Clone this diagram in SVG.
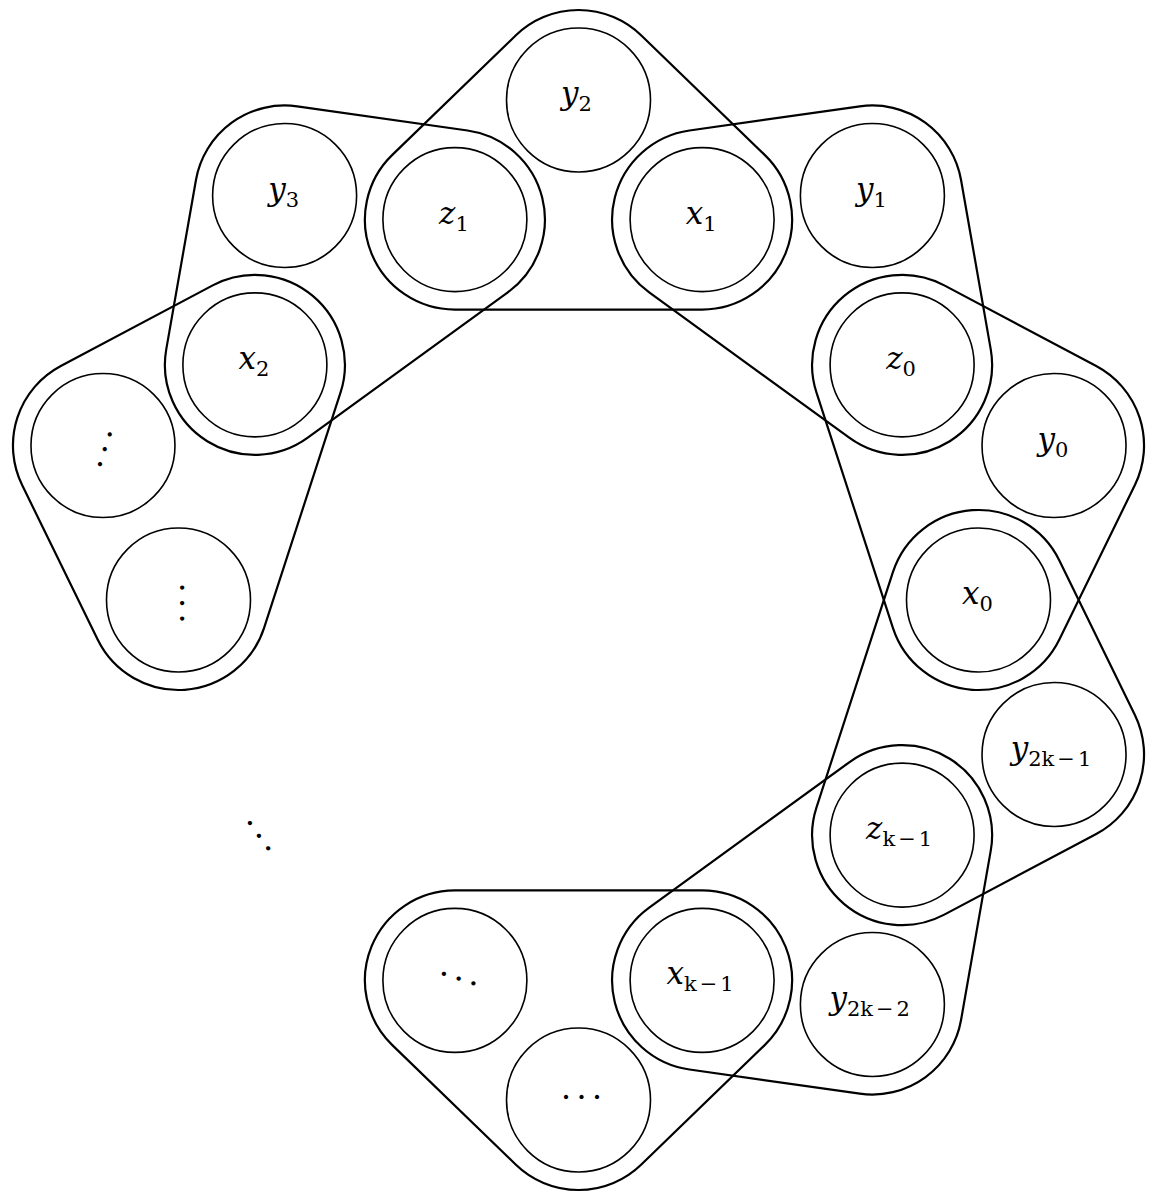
<svg xmlns="http://www.w3.org/2000/svg" width="1158" height="1200" viewBox="0 0 1158 1200">
<style>
.v{fill:none;stroke:#000;stroke-width:1.6}
.he{fill:none;stroke:#000;stroke-width:2.2}
.lbl{font-family:"DejaVu Serif","Liberation Serif",serif;text-anchor:middle;fill:#000}
.m{font-size:31px;font-style:italic}
.s{font-size:21px;font-style:normal}
.dots{font-family:"Liberation Serif",serif;font-size:36px;text-anchor:middle;fill:#000}
</style>
<rect width="1158" height="1200" fill="#fff"/>
<g id="hyperedges">
<path class="he" transform="translate(578.5 600) rotate(-162)" d="M290.42,-123.61A90 90 0 0 1 445.11,-186.18L564.69,-62.58A90 90 0 0 1 564.69,62.58L445.11,186.18A90 90 0 0 1 290.42,123.61Z"/>
<path class="he" transform="translate(578.5 600) rotate(-126)" d="M290.42,-123.61A90 90 0 0 1 445.11,-186.18L564.69,-62.58A90 90 0 0 1 564.69,62.58L445.11,186.18A90 90 0 0 1 290.42,123.61Z"/>
<path class="he" transform="translate(578.5 600) rotate(-90)" d="M290.42,-123.61A90 90 0 0 1 445.11,-186.18L564.69,-62.58A90 90 0 0 1 564.69,62.58L445.11,186.18A90 90 0 0 1 290.42,123.61Z"/>
<path class="he" transform="translate(578.5 600) rotate(-54)" d="M290.42,-123.61A90 90 0 0 1 445.11,-186.18L564.69,-62.58A90 90 0 0 1 564.69,62.58L445.11,186.18A90 90 0 0 1 290.42,123.61Z"/>
<path class="he" transform="translate(578.5 600) rotate(-18)" d="M290.42,-123.61A90 90 0 0 1 445.11,-186.18L564.69,-62.58A90 90 0 0 1 564.69,62.58L445.11,186.18A90 90 0 0 1 290.42,123.61Z"/>
<path class="he" transform="translate(578.5 600) rotate(18)" d="M290.42,-123.61A90 90 0 0 1 445.11,-186.18L564.69,-62.58A90 90 0 0 1 564.69,62.58L445.11,186.18A90 90 0 0 1 290.42,123.61Z"/>
<path class="he" transform="translate(578.5 600) rotate(54)" d="M290.42,-123.61A90 90 0 0 1 445.11,-186.18L564.69,-62.58A90 90 0 0 1 564.69,62.58L445.11,186.18A90 90 0 0 1 290.42,123.61Z"/>
<path class="he" transform="translate(578.5 600) rotate(90)" d="M290.42,-123.61A90 90 0 0 1 445.11,-186.18L564.69,-62.58A90 90 0 0 1 564.69,62.58L445.11,186.18A90 90 0 0 1 290.42,123.61Z"/>
</g>
<g id="node-x0"><circle class="v" cx="978.5" cy="600" r="72"/><text class="lbl" x="977.5" y="604"><tspan class="m">x</tspan><tspan class="s" dy="7">0</tspan></text></g>
<g id="node-z0"><circle class="v" cx="902.11" cy="364.89" r="72"/><text class="lbl" x="901.1" y="368.9"><tspan class="m">z</tspan><tspan class="s" dy="7">0</tspan></text></g>
<g id="node-x1"><circle class="v" cx="702.11" cy="219.58" r="72"/><text class="lbl" x="701.1" y="223.6"><tspan class="m">x</tspan><tspan class="s" dy="7">1</tspan></text></g>
<g id="node-z1"><circle class="v" cx="454.89" cy="219.58" r="72"/><text class="lbl" x="453.9" y="223.6"><tspan class="m">z</tspan><tspan class="s" dy="7">1</tspan></text></g>
<g id="node-x2"><circle class="v" cx="254.89" cy="364.89" r="72"/><text class="lbl" x="253.9" y="368.9"><tspan class="m">x</tspan><tspan class="s" dy="7">2</tspan></text></g>
<g id="node-xk-1"><circle class="v" cx="702.11" cy="980.42" r="72"/><text class="lbl" x="700.1" y="984.4"><tspan class="m">x</tspan><tspan class="s" dy="7">k</tspan><tspan class="s" dx="3">−</tspan><tspan class="s" dx="3">1</tspan></text></g>
<g id="node-zk-1"><circle class="v" cx="902.11" cy="835.11" r="72"/><text class="lbl" x="899.1" y="839.1"><tspan class="m">z</tspan><tspan class="s" dy="7">k</tspan><tspan class="s" dx="3">−</tspan><tspan class="s" dx="3">1</tspan></text></g>
<g id="node-y0"><circle class="v" cx="1054.03" cy="445.49" r="72"/><text class="lbl" x="1053" y="449.5"><tspan class="m">y</tspan><tspan class="s" dy="7">0</tspan></text></g>
<g id="node-y1"><circle class="v" cx="872.39" cy="195.49" r="72"/><text class="lbl" x="871.4" y="199.5"><tspan class="m">y</tspan><tspan class="s" dy="7">1</tspan></text></g>
<g id="node-y2"><circle class="v" cx="578.5" cy="100" r="72"/><text class="lbl" x="576.5" y="104"><tspan class="m">y</tspan><tspan class="s" dy="7">2</tspan></text></g>
<g id="node-y3"><circle class="v" cx="284.61" cy="195.49" r="72"/><text class="lbl" x="283.6" y="199.5"><tspan class="m">y</tspan><tspan class="s" dy="7">3</tspan></text></g>
<g id="node-y2k-1"><circle class="v" cx="1054.03" cy="754.51" r="72"/><text class="lbl" x="1051" y="758.5"><tspan class="m">y</tspan><tspan class="s" dy="7">2k</tspan><tspan class="s" dx="3">−</tspan><tspan class="s" dx="3">1</tspan></text></g>
<g id="node-y2k-2"><circle class="v" cx="872.39" cy="1004.51" r="72"/><text class="lbl" x="869.7" y="1008.5"><tspan class="m">y</tspan><tspan class="s" dy="7">2k</tspan><tspan class="s" dx="3">−</tspan><tspan class="s" dx="3">2</tspan></text></g>
<g id="node-iddots"><circle class="v" cx="102.97" cy="445.49" r="72"/><g transform="translate(102.97 445.49) rotate(108)"><text class="dots" x="-12.6 3 18.6" y="9">···</text></g></g>
<g id="node-vdots"><circle class="v" cx="178.5" cy="600" r="72"/><g transform="translate(178.5 600) rotate(90)"><text class="dots" x="-12.6 3 18.6" y="9">···</text></g></g>
<g id="node-ddots"><circle class="v" cx="454.89" cy="980.42" r="72"/><g transform="translate(454.89 980.42) rotate(18)"><text class="dots" x="-12.6 3 18.6" y="9">···</text></g></g>
<g id="node-cdots"><circle class="v" cx="578.5" cy="1100" r="72"/><g transform="translate(578.5 1100) rotate(0)"><text class="dots" x="-12.6 3 18.6" y="9">···</text></g></g>
<g id="ellipsis"><g transform="translate(254.89 835.11) rotate(54)"><text class="dots" x="-12.6 3 18.6" y="9">···</text></g></g>
</svg>
